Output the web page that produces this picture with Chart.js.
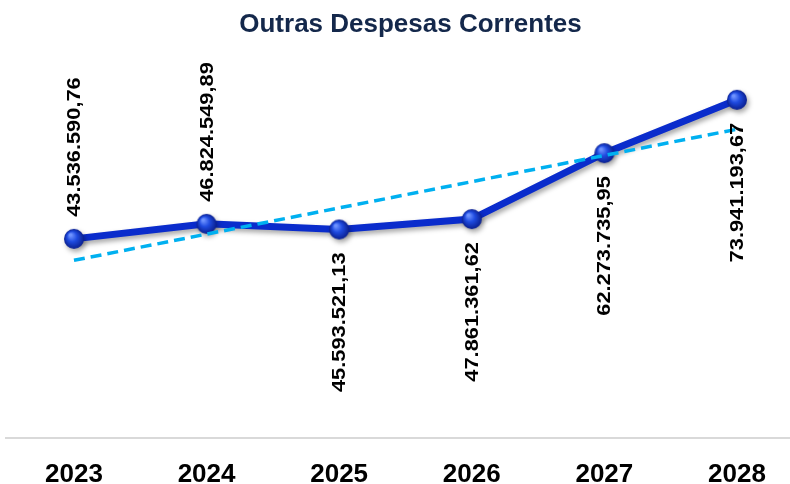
<!DOCTYPE html>
<html>
<head>
    <meta charset="utf-8">
    <title>Outras Despesas Correntes</title>
    <script src="https://cdn.jsdelivr.net/npm/chart.js"></script>
    <style>
        html, body { margin: 0; padding: 0; background: #fff; }
    </style>
</head>
<body>
<div style="width: 790px; height: 484px;">
    <canvas id="lineChart"></canvas>
</div>

<script>
    // dados
    const years = ['2023', '2024', '2025', '2026', '2027', '2028'];
    const values = [43536590.76, 46824549.89, 45593521.13, 47861361.62, 62273735.95, 73941193.67];
    const valueLabels = ['43.536.590,76', '46.824.549,89', '45.593.521,13', '47.861.361,62', '62.273.735,95', '73.941.193,67'];
    // linha de tendencia (inicio e fim)
    const trendX = [0, 5];
    const trendValues = [38840000, 67500000];
    // rotulo acima (true) ou abaixo (false) do ponto
    const labelAbove = [true, true, false, false, false, false];

    // marcador em forma de esfera
    function makeSphere(r) {
        const c = document.createElement('canvas');
        c.width = c.height = r * 2 + 2;
        const g = c.getContext('2d');
        const cx = r + 1, cy = r + 1;
        const grad = g.createRadialGradient(cx - r * 0.35, cy - r * 0.4, r * 0.1, cx, cy, r);
        grad.addColorStop(0, '#6f93ff');
        grad.addColorStop(0.45, '#1f4be0');
        grad.addColorStop(1, '#0a1f8f');
        g.fillStyle = grad;
        g.beginPath();
        g.arc(cx, cy, r, 0, Math.PI * 2);
        g.fill();
        return c;
    }
    const sphere = makeSphere(10);

    const lineShadow = {
        id: 'lineShadow',
        beforeDatasetDraw(chart, args) {
            if (args.index !== 1) return;
            const ctx = chart.ctx;
            ctx.save();
            ctx.shadowColor = 'rgba(0,0,0,0.35)';
            ctx.shadowBlur = 5;
            ctx.shadowOffsetX = 2;
            ctx.shadowOffsetY = 3;
        },
        afterDatasetDraw(chart, args) {
            if (args.index !== 1) return;
            chart.ctx.restore();
        }
    };

    const baseLine = {
        id: 'baseLine',
        beforeDatasetsDraw(chart) {
            const ctx = chart.ctx;
            const y = chart.scales.y.getPixelForValue(0);
            ctx.save();
            ctx.strokeStyle = '#d9d9d9';
            ctx.lineWidth = 2;
            ctx.beginPath();
            ctx.moveTo(5, y);
            ctx.lineTo(790, y);
            ctx.stroke();
            ctx.restore();
        }
    };

    const valueLabelsPlugin = {
        id: 'valueLabels',
        afterDatasetsDraw(chart) {
            const ctx = chart.ctx;
            const meta = chart.getDatasetMeta(1);
            ctx.save();
            ctx.font = 'bold 18.5px "Liberation Sans", Arial, sans-serif';
            ctx.fillStyle = '#000';
            ctx.textBaseline = 'middle';
            meta.data.forEach((pt, i) => {
                ctx.save();
                if (labelAbove[i]) {
                    ctx.translate(pt.x, pt.y - 22);
                    ctx.textAlign = 'left';
                } else {
                    ctx.translate(pt.x, pt.y + 23);
                    ctx.textAlign = 'right';
                }
                ctx.rotate(-Math.PI / 2);
                ctx.scale(1.18, 1);
                ctx.fillText(valueLabels[i], 0, 1);
                ctx.restore();
            });
            ctx.restore();
        }
    };

    const ctx = document.getElementById('lineChart').getContext('2d');
    new Chart(ctx, {
        type: 'line',
        data: {
            datasets: [{
                label: 'Tendência',
                data: trendX.map((x, i) => ({ x: x, y: trendValues[i] })),
                borderColor: '#00b0f0',
                borderWidth: 3.5,
                borderDash: [11, 6],
                pointRadius: 0,
                fill: false,
                tension: 0
            }, {
                label: 'Outras Despesas Correntes',
                data: values.map((v, i) => ({ x: i, y: v })),
                borderColor: '#0a2ccc',
                borderWidth: 7,
                pointStyle: sphere,
                pointRadius: 10,
                fill: false,
                tension: 0
            }]
        },
        options: {
            responsive: true,
            maintainAspectRatio: false,
            animation: false,
            layout: { autoPadding: false, padding: { left: 31, right: 0, top: 0, bottom: 0 } },
            plugins: {
                legend: { display: false },
                tooltip: { enabled: false },
                title: {
                    display: true,
                    text: 'Outras Despesas Correntes',
                    color: '#14284b',
                    font: { family: '"Liberation Sans", Arial, sans-serif', size: 26, weight: 'bold', lineHeight: 1.2 },
                    padding: { top: 9, bottom: 9 }
                }
            },
            scales: {
                x: {
                    type: 'linear',
                    min: -0.324,
                    max: 5.4,
                    afterBuildTicks(scale) {
                        scale.ticks = years.map((_, i) => ({ value: i }));
                    },
                    afterFit(scale) {
                        scale.height = 46;
                    },
                    grid: { display: false, drawTicks: false },
                    border: { display: false },
                    ticks: {
                        autoSkip: false,
                        maxRotation: 0,
                        padding: 21,
                        color: '#000',
                        font: { family: '"Liberation Sans", Arial, sans-serif', size: 26, weight: 'bold' },
                        callback: (v) => years[v]
                    }
                },
                y: {
                    display: false,
                    min: 0,
                    max: 85000000
                }
            }
        },
        plugins: [lineShadow, baseLine, valueLabelsPlugin]
    });
</script>
</body>
</html>
